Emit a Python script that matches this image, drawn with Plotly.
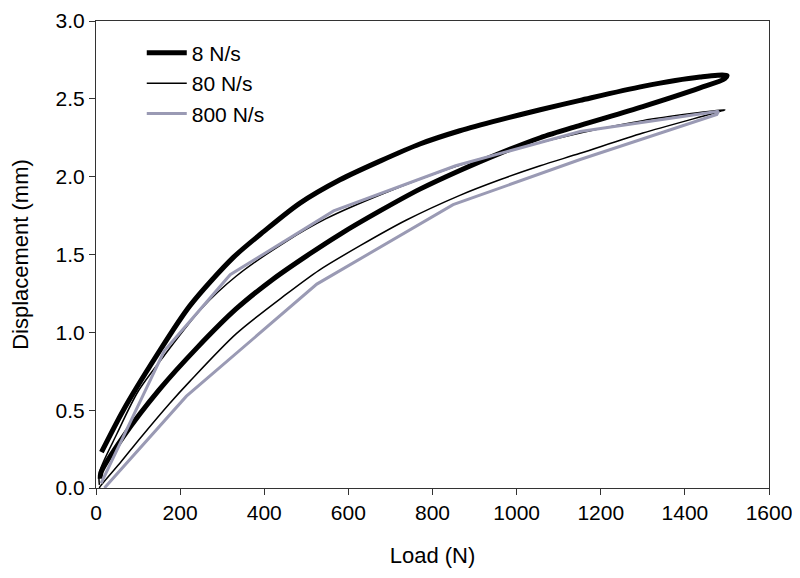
import plotly.graph_objects as go

# 8 N/s loop (loading branch, then unloading branch)
load_8 = [10, 12, 65, 150, 240, 333, 420, 500, 580, 675, 770, 865, 960, 1056, 1151, 1300, 1436, 1495,
          1500, 1436, 1300, 1151, 1056, 960, 865, 770, 675, 580, 485, 400, 326, 223, 144, 65, 13]
disp_8 = [0.06, 0.10, 0.33, 0.63, 0.90, 1.15, 1.34, 1.49, 1.63, 1.78, 1.92, 2.04, 2.15, 2.25, 2.33, 2.45, 2.57, 2.63,
          2.65, 2.64, 2.58, 2.49, 2.43, 2.365, 2.295, 2.21, 2.10, 1.98, 1.83, 1.65, 1.48, 1.17, 0.85, 0.50, 0.23]

# 80 N/s loop
load_80 = [8, 10, 60, 105, 174, 223, 333, 450, 531, 630, 737, 865, 960, 1056, 1151, 1300, 1484,
           1495, 1300, 1151, 1000, 849, 682, 547, 450, 333, 250, 162, 100, 50, 8, 8]
disp_80 = [0.0, 0.01, 0.17, 0.32, 0.54, 0.685, 0.99, 1.24, 1.40, 1.56, 1.72, 1.88, 1.98, 2.07, 2.15, 2.28, 2.42,
           2.43, 2.36, 2.28, 2.18, 2.06, 1.89, 1.73, 1.58, 1.36, 1.15, 0.85, 0.62, 0.35, 0.10, 0.02]

# 800 N/s loop
load_800 = [20, 215, 525, 849, 1151, 1476, 1480, 1151, 855, 565, 319, 162, 12]
disp_800 = [0.0, 0.59, 1.31, 1.82, 2.11, 2.40, 2.42, 2.29, 2.07, 1.78, 1.37, 0.88, 0.03]

x_ticks = [0, 200, 400, 600, 800, 1000, 1200, 1400, 1600]
y_ticks = [0.0, 0.5, 1.0, 1.5, 2.0, 2.5, 3.0]

FONT = "Liberation Sans, Arial, sans-serif"

fig = go.Figure()
fig.add_trace(go.Scatter(x=load_8, y=disp_8, mode="lines", name="8 N/s",
                         line=dict(color="black", width=5, shape="spline", smoothing=0.8)))
fig.add_trace(go.Scatter(x=load_80, y=disp_80, mode="lines", name="80 N/s",
                         line=dict(color="black", width=1.5, shape="spline", smoothing=0.8)))
fig.add_trace(go.Scatter(x=load_800, y=disp_800, mode="lines", name="800 N/s",
                         line=dict(color="#9a9ab4", width=3)))

axis_common = dict(showline=True, linecolor="#333333", linewidth=1, mirror=True,
                   ticks="outside", ticklen=6, tickcolor="#333333", showgrid=False,
                   zeroline=False, automargin=False, ticklabeloverflow="allow",
                   tickfont=dict(family=FONT, size=21, color="black"))

fig.update_xaxes(range=[0, 1600], tickvals=x_ticks,
                 title=dict(text="Load (N)", font=dict(family=FONT, size=22, color="black"), standoff=24),
                 **axis_common)
fig.update_yaxes(range=[0, 3.0], tickvals=y_ticks, tickformat=".1f",
                 title=dict(text="Displacement (mm)", font=dict(family=FONT, size=22, color="black"), standoff=24),
                 **axis_common)

# the page body adds an 8px offset; size the figure so the page does not overflow the window
fig.update_layout(
    width=784, height=562,
    margin=dict(l=88, r=23, t=13, b=82),
    plot_bgcolor="white", paper_bgcolor="white",
    font=dict(family=FONT, size=22, color="black"),
    legend=dict(x=0.068, y=0.975, xanchor="left", yanchor="top",
                bgcolor="rgba(0,0,0,0)", font=dict(family=FONT, size=21),
                tracegroupgap=0, itemwidth=40),
)

fig.write_html("out.html")
